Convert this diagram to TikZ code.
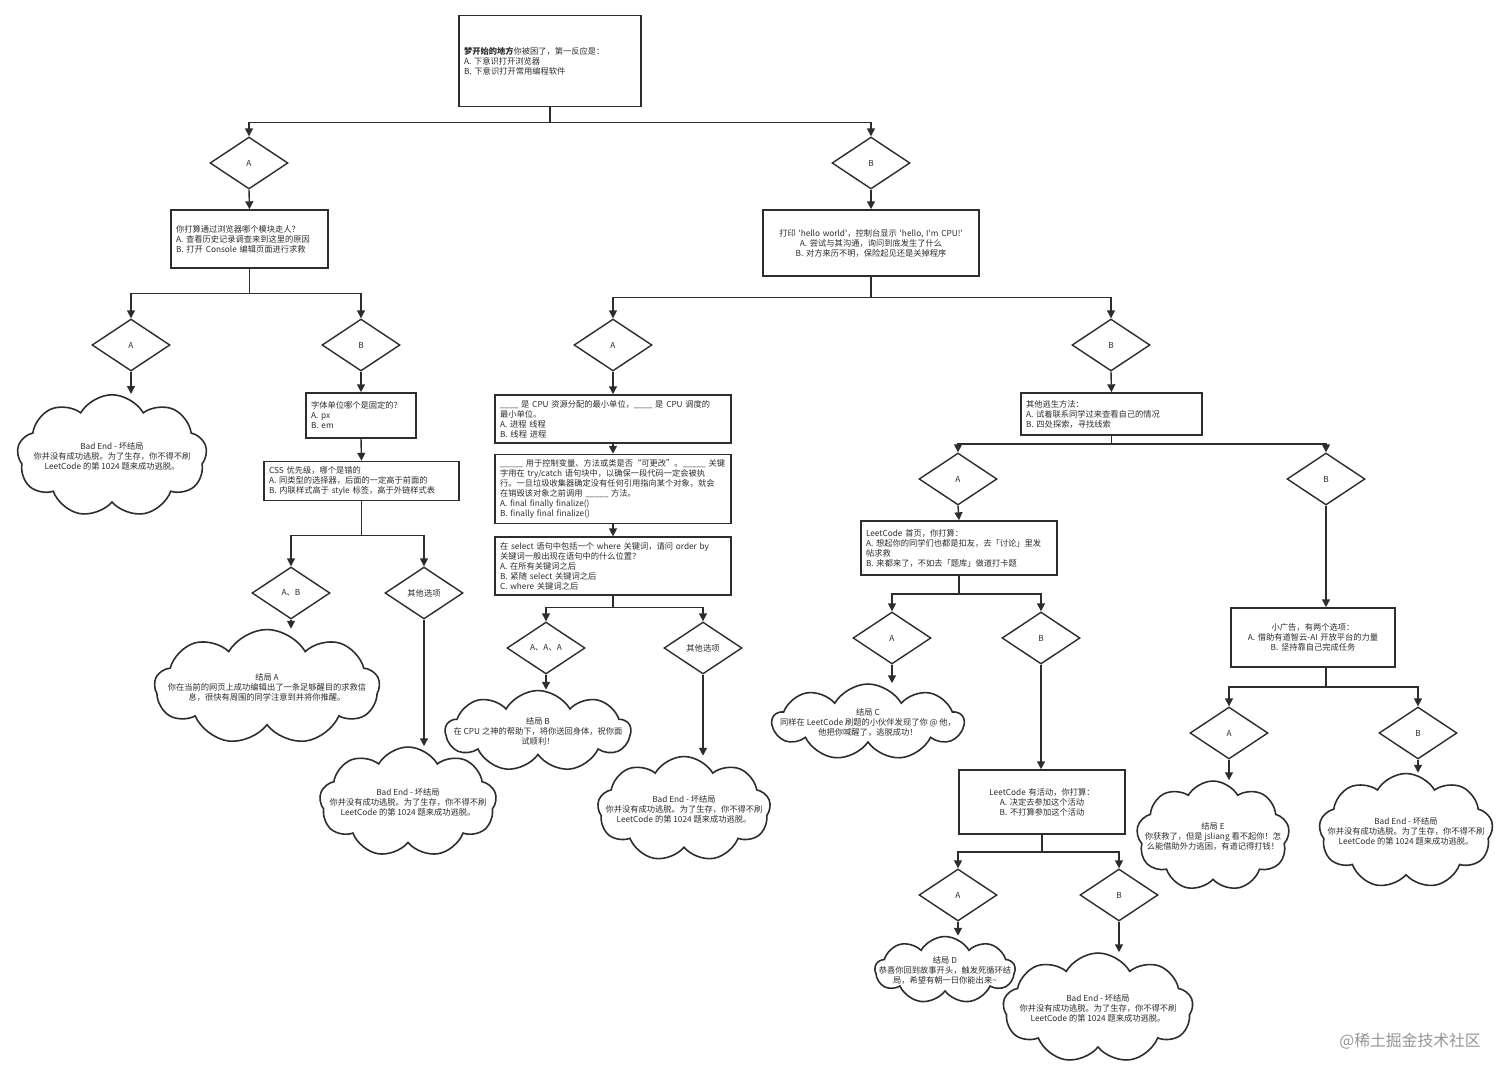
\documentclass[tikz,border=0pt]{standalone}
\usepackage{fontspec}
\newfontfamily\flowface{Noto Sans CJK SC}
\usepackage{tikz}
\usetikzlibrary{shapes.geometric, shapes.symbols, arrows.meta, calc}
\definecolor{myink}{RGB}{45,45,45}
\definecolor{watermark}{RGB}{150,150,150}
\newcommand{\flowfont}{\flowface\fontsize{4.7}{5.7}\selectfont}
\tikzset{
  qbox/.style={rectangle, draw=myink, fill=white, line width=0.9pt,
    align=left, inner sep=0.1cm, font=\flowfont, text=myink},
  cbox/.style={qbox, align=center},
  choice/.style={diamond, draw=myink, fill=white, line width=0.8pt,
    minimum width=1.56cm, minimum height=1.04cm, inner sep=0pt,
    font=\flowfont, text=myink},
  ending/.style={cloud, cloud puffs=9, cloud puff arc=120, cloud ignores aspect,
    draw=myink, fill=white, line width=0.9pt, inner sep=0pt},
  endtext/.style={align=center, inner sep=0pt, font=\flowfont, text=myink},
  arrow/.style={-{Triangle[length=4.5pt, width=4.5pt]}, line width=0.8pt, draw=myink}
}
\begin{document}
\begin{tikzpicture}[x=0.02cm, y=-0.02cm]
  \fill[white] (0,0) rectangle (1512,1080);
  \useasboundingbox (0,0) rectangle (1512,1080);

  % Start
  \node[qbox, text width=3.44cm, minimum height=1.82cm] (start) at (550,61)
    {\textbf{梦开始的地方}你被困了，第一反应是：\\A. 下意识打开浏览器\\B. 下意识打开常用编程软件};
  \node[choice] (dA1) at (249,163) {A};
  \node[choice] (dB1) at (871,163) {B};

  % Browser branch
  \node[qbox, text width=2.94cm, minimum height=1.16cm] (browser) at (249.5,239)
    {你打算通过浏览器哪个模块走人？\\A. 查看历史记录调查来到这里的原因\\B. 打开 Console 编辑页面进行求救};
  \node[choice] (dLA) at (131,345) {A};
  \node[choice] (dLB) at (361,345) {B};
  \node[ending, minimum width=3.8cm, minimum height=2.45cm] (badA) at (112,456) {};
  \node[endtext] (badAtext) at (badA)
    {Bad End - 坏结局\\你并没有成功逃脱。为了生存，你不得不刷\\LeetCode 的第 1024 题来成功逃脱。};
  \node[qbox, text width=2.0cm, minimum height=0.9cm] (fontq) at (361,415.5)
    {字体单位哪个是固定的？\\A. px\\B. em};
  \node[qbox, text width=3.7cm, minimum height=0.76cm] (cssq) at (361.5,481)
    {CSS 优先级，哪个是错的\\A. 同类型的选择器，后面的一定高于前面的\\B. 内联样式高于 style 标签，高于外链样式表};
  \node[choice] (dAB) at (291,593) {A、B};
  \node[choice] (dOther) at (424,593) {其他选项};
  \node[ending, minimum width=4.5cm, minimum height=2.3cm] (endA) at (267,687) {};
  \node[endtext] (endAtext) at (endA)
    {结局 A\\你在当前的网页上成功编辑出了一条足够醒目的求救信\\息，很快有周围的同学注意到并将你推醒。};
  \node[ending, minimum width=3.54cm, minimum height=2.2cm] (badB) at (408,802) {};
  \node[endtext] (badBtext) at (badB)
    {Bad End - 坏结局\\你并没有成功逃脱。为了生存，你不得不刷\\LeetCode 的第 1024 题来成功逃脱。};

  % Code branch
  \node[cbox, text width=4.12cm, minimum height=1.32cm] (hello) at (871,243)
    {打印 'hello world'，控制台显示 'hello, I'm CPU!'\\A. 尝试与其沟通，询问到底发生了什么\\B. 对方来历不明，保险起见还是关掉程序};
  \node[choice] (dMA) at (613,345) {A};
  \node[choice] (dRB) at (1111,345) {B};
  \node[qbox, text width=4.52cm, minimum height=0.96cm] (cpuq) at (613,419)
    {\_\_\_\_ 是 CPU 资源分配的最小单位，\_\_\_\_ 是 CPU 调度的\\最小单位。\\A. 进程 线程\\B. 线程 进程};
  \node[qbox, text width=4.52cm, minimum height=1.32cm] (javaq) at (613,489)
    {\_\_\_\_\_ 用于控制变量、方法或类是否“可更改”。\_\_\_\_\_ 关键\\字用在 try/catch 语句块中，以确保一段代码一定会被执\\行。一旦垃圾收集器确定没有任何引用指向某个对象，就会\\在销毁该对象之前调用 \_\_\_\_\_ 方法。\\A. final finally finalize()\\B. finally final finalize()};
  \node[qbox, text width=4.52cm, minimum height=1.12cm] (sqlq) at (613,566)
    {在 select 语句中包括一个 where 关键词，请问 order by\\关键词一般出现在语句中的什么位置？\\A. 在所有关键词之后\\B. 紧随 select 关键词之后\\C. where 关键词之后};
  \node[choice] (dAAA) at (546,648) {A、A、A};
  \node[choice] (dOther2) at (703,648) {其他选项};
  \node[ending, minimum width=3.7cm, minimum height=1.62cm] (endB) at (538,731) {};
  \node[endtext] (endBtext) at (endB)
    {结局 B\\在 CPU 之神的帮助下，将你送回身体，祝你面\\试顺利！};
  \node[ending, minimum width=3.46cm, minimum height=2.1cm] (badC) at (684,809) {};
  \node[endtext] (badCtext) at (badC)
    {Bad End - 坏结局\\你并没有成功逃脱。为了生存，你不得不刷\\LeetCode 的第 1024 题来成功逃脱。};

  % Escape branch
  \node[qbox, text width=3.42cm, minimum height=0.84cm] (escape) at (1111.5,414)
    {其他逃生方法：\\A. 试着联系同学过来查看自己的情况\\B. 四处探索，寻找线索};
  \node[choice] (dRA) at (958,479) {A};
  \node[choice] (dRB2) at (1326,479) {B};
  \node[qbox, text width=3.72cm, minimum height=1.08cm] (leet) at (959,548)
    {LeetCode 首页，你打算：\\A. 想起你的同学们也都是扣友，去「讨论」里发\\帖求救\\B. 来都来了，不如去「题库」做道打卡题};
  \node[choice] (dCA) at (892,638) {A};
  \node[choice] (dCB) at (1041,638) {B};
  \node[ending, minimum width=3.82cm, minimum height=1.52cm] (endC) at (868,722) {};
  \node[endtext] (endCtext) at (endC)
    {结局 C\\同样在 LeetCode 刷题的小伙伴发现了你 @ 他，\\他把你喊醒了，逃脱成功！};
  \node[cbox, text width=3.12cm, minimum height=1.28cm] (event) at (1042,802)
    {LeetCode 有活动，你打算：\\A. 决定去参加这个活动\\B. 不打算参加这个活动};
  \node[choice] (dDA) at (958,895) {A};
  \node[choice] (dDB) at (1119,895) {B};
  \node[ending, minimum width=2.8cm, minimum height=1.34cm] (endD) at (945,970) {};
  \node[endtext] (endDtext) at (endD)
    {结局 D\\恭喜你回到故事开头，触发死循环结\\局，希望有朝一日你能出来\textasciitilde};
  \node[ending, minimum width=3.8cm, minimum height=2.2cm] (badD) at (1098,1008) {};
  \node[endtext] (badDtext) at (badD)
    {Bad End - 坏结局\\你并没有成功逃脱。为了生存，你不得不刷\\LeetCode 的第 1024 题来成功逃脱。};
  \node[cbox, text width=3.08cm, minimum height=1.18cm] (ad) at (1313,637.5)
    {小广告，有两个选项：\\A. 借助有道智云-AI 开放平台的力量\\B. 坚持靠自己完成任务};
  \node[choice] (dEA) at (1229,733) {A};
  \node[choice] (dEB) at (1418,733) {B};
  \node[ending, minimum width=3.06cm, minimum height=2.2cm] (endE) at (1213,836) {};
  \node[endtext] (endEtext) at (endE)
    {结局 E\\你获救了，但是 jsliang 看不起你！怎\\么能借助外力逃困，有道记得打钱！};
  \node[ending, minimum width=3.48cm, minimum height=2.3cm] (badE) at (1406,831) {};
  \node[endtext] (badEtext) at (badE)
    {Bad End - 坏结局\\你并没有成功逃脱。为了生存，你不得不刷\\LeetCode 的第 1024 题来成功逃脱。};

  \node[font=\flowface\fontsize{9}{10}\selectfont, text=watermark, anchor=east] (mark) at (1487,1041)
    {@稀土掘金技术社区};

  % Arrows
  \draw[arrow] (start.south) -- ++(0,15) -| (dA1.north);
  \draw[arrow] (start.south) -- ++(0,15) -| (dB1.north);
  \draw[arrow] (dA1.south) -- (browser.north);
  \draw[arrow] (browser.south) -- ++(0,25) -| (dLA.north);
  \draw[arrow] (browser.south) -- ++(0,25) -| (dLB.north);
  \draw[arrow] (dLA.south) -- (dLA.south |- badA.north);
  \draw[arrow] (dLB.south) -- (fontq.north);
  \draw[arrow] (fontq.south) -- (cssq.north);
  \draw[arrow] (cssq.south) -- ++(0,34) -| (dAB.north);
  \draw[arrow] (cssq.south) -- ++(0,34) -| (dOther.north);
  \draw[arrow] (dAB.south) -- (dAB.south |- endA.north);
  \draw[arrow] (dOther.south) -- (dOther.south |- badB.north);

  \draw[arrow] (dB1.south) -- (hello.north);
  \draw[arrow] (hello.south) -- ++(0,21) -| (dMA.north);
  \draw[arrow] (hello.south) -- ++(0,21) -| (dRB.north);
  \draw[arrow] (dMA.south) -- (cpuq.north);
  \draw[arrow] (cpuq.south) -- (javaq.north);
  \draw[arrow] (javaq.south) -- (sqlq.north);
  \draw[arrow] (sqlq.south) -- ++(0,12) -| (dAAA.north);
  \draw[arrow] (sqlq.south) -- ++(0,12) -| (dOther2.north);
  \draw[arrow] (dAAA.south) -- (dAAA.south |- endB.north);
  \draw[arrow] (dOther2.south) -- (dOther2.south |- badC.north);

  \draw[arrow] (dRB.south) -- (escape.north);
  \draw[arrow] (escape.south) -- ++(0,8) -| (dRA.north);
  \draw[arrow] (escape.south) -- ++(0,8) -| (dRB2.north);
  \draw[arrow] (dRA.south) -- (leet.north);
  \draw[arrow] (leet.south) -- ++(0,18) -| (dCA.north);
  \draw[arrow] (leet.south) -- ++(0,18) -| (dCB.north);
  \draw[arrow] (dCA.south) -- (dCA.south |- endC.north);
  \draw[arrow] (dCB.south) -- (dCB.south |- event.north);
  \draw[arrow] (event.south) -- ++(0,17) -| (dDA.north);
  \draw[arrow] (event.south) -- ++(0,17) -| (dDB.north);
  \draw[arrow] (dDA.south) -- (dDA.south |- endD.north);
  \draw[arrow] (dDB.south) -- (dDB.south |- badD.north);
  \draw[arrow] (dRB2.south) -- (dRB2.south |- ad.north);
  \draw[arrow] (ad.south -| dRB2) -- ++(0,19) -| (dEA.north);
  \draw[arrow] (ad.south -| dRB2) -- ++(0,19) -| (dEB.north);
  \draw[arrow] (dEA.south) -- (dEA.south |- endE.north);
  \draw[arrow] (dEB.south) -- (dEB.south |- badE.north);
\end{tikzpicture}
\end{document}
